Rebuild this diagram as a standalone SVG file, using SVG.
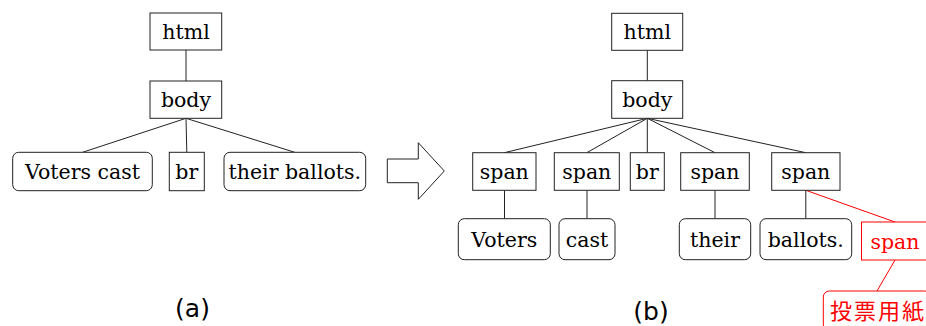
<svg xmlns="http://www.w3.org/2000/svg" width="926" height="326" viewBox="0 0 926 326">
<style>
.b{fill:#fff;stroke:#222;stroke-width:1}
.r{fill:#fff;stroke:#ff0000;stroke-width:1}
.t{font-family:"DejaVu Serif","Liberation Serif",serif;font-size:20.5px;fill:#000;text-anchor:middle}
.tr{font-family:"DejaVu Serif","Liberation Serif",serif;font-size:20.5px;fill:#ff0000;text-anchor:middle}
.cj{font-family:"Noto Sans CJK JP","Noto Sans CJK SC",sans-serif;font-size:22px;letter-spacing:2px;fill:#ff0000;text-anchor:middle}
.lab{font-family:"DejaVu Sans","Liberation Sans",sans-serif;font-size:25px;fill:#000;text-anchor:middle}
.c line{stroke:#222;stroke-width:1}
.c line.red{stroke:#ff0000}
</style>
<g id="connectors" class="c">
<line x1="186" y1="50" x2="186" y2="81"/>
<line x1="186" y1="118.3" x2="82.5" y2="152.3"/>
<line x1="186" y1="118.3" x2="186.8" y2="152.3"/>
<line x1="186" y1="118.3" x2="294.8" y2="152.3"/>
<line x1="647.3" y1="50.3" x2="647.3" y2="80.7"/>
<line x1="647.3" y1="118.3" x2="504.3" y2="152.7"/>
<line x1="647.3" y1="118.3" x2="586.8" y2="152.7"/>
<line x1="647.3" y1="118.3" x2="647.3" y2="152.7"/>
<line x1="647.3" y1="118.3" x2="715" y2="152.7"/>
<line x1="647.3" y1="118.3" x2="805.8" y2="152.7"/>
<line x1="504.5" y1="190.3" x2="504.5" y2="218.7"/>
<line x1="587" y1="190.3" x2="587" y2="218.7"/>
<line x1="715" y1="190.3" x2="715" y2="218.7"/>
<line x1="805.8" y1="190.3" x2="805.8" y2="218.7"/>
<line class="red" x1="805.8" y1="190.3" x2="895" y2="222"/>
<line class="red" x1="895" y1="260" x2="877" y2="291"/>
</g>
<g id="a-html"><rect class="b" x="150" y="13" width="71.7" height="37"/><text class="t" x="186" y="38.8">html</text></g>
<g id="a-body"><rect class="b" x="150" y="81" width="71.7" height="37.3"/><text class="t" x="186" y="106.8">body</text></g>
<g id="a-voterscast"><rect class="b" x="12.7" y="152.3" width="139.6" height="38.4" rx="6"/><text class="t" x="82.5" y="179.2">Voters cast</text></g>
<g id="a-br"><rect class="b" x="169.3" y="152.3" width="35" height="38.4"/><text class="t" x="186.8" y="179.2">br</text></g>
<g id="a-theirballots"><rect class="b" x="224" y="152.3" width="141.7" height="38.4" rx="6"/><text class="t" x="294.8" y="179.2">their ballots.</text></g>
<g id="arrow"><polygon class="b" points="387.3,159 418.3,159 418.3,142.7 444.3,171 418.3,199.3 418.3,182.7 387.3,182.7"/></g>
<g id="b-html"><rect class="b" x="611.7" y="13.3" width="71" height="37"/><text class="t" x="647.3" y="39">html</text></g>
<g id="b-body"><rect class="b" x="611.7" y="80.7" width="71" height="37.6"/><text class="t" x="647.3" y="106.8">body</text></g>
<g id="b-span1"><rect class="b" x="472.7" y="152.7" width="63.3" height="37.6"/><text class="t" x="504.3" y="179.3">span</text></g>
<g id="b-span2"><rect class="b" x="554.3" y="152.7" width="65" height="37.6"/><text class="t" x="586.8" y="179.3">span</text></g>
<g id="b-br"><rect class="b" x="630.3" y="152.7" width="34" height="37.6"/><text class="t" x="647.3" y="179.3">br</text></g>
<g id="b-span4"><rect class="b" x="680.7" y="152.7" width="68.6" height="37.6"/><text class="t" x="715" y="179.3">span</text></g>
<g id="b-span5"><rect class="b" x="771.7" y="152.7" width="68.3" height="37.6"/><text class="t" x="805.8" y="179.3">span</text></g>
<g id="b-voters"><rect class="b" x="458.3" y="218.7" width="92" height="41" rx="6"/><text class="t" x="504.3" y="246.5">Voters</text></g>
<g id="b-cast"><rect class="b" x="559" y="218.7" width="56" height="41" rx="6"/><text class="t" x="587" y="246.5">cast</text></g>
<g id="b-their"><rect class="b" x="679.3" y="218.7" width="71.4" height="41" rx="6"/><text class="t" x="715" y="246.5">their</text></g>
<g id="b-ballots"><rect class="b" x="760" y="218.7" width="91.7" height="41" rx="6"/><text class="t" x="805.8" y="246.5">ballots.</text></g>
<g id="b-span-red"><rect class="r" x="861.5" y="222" width="67" height="38"/><text class="tr" x="895" y="248.5">span</text></g>
<g id="b-touhyouyoushi"><rect class="r" x="823.3" y="291" width="107.4" height="40" rx="6"/><text class="cj" x="878" y="319">投票用紙</text></g>
<text class="lab" x="192.5" y="317">(a)</text>
<text class="lab" x="651" y="320">(b)</text>
</svg>
